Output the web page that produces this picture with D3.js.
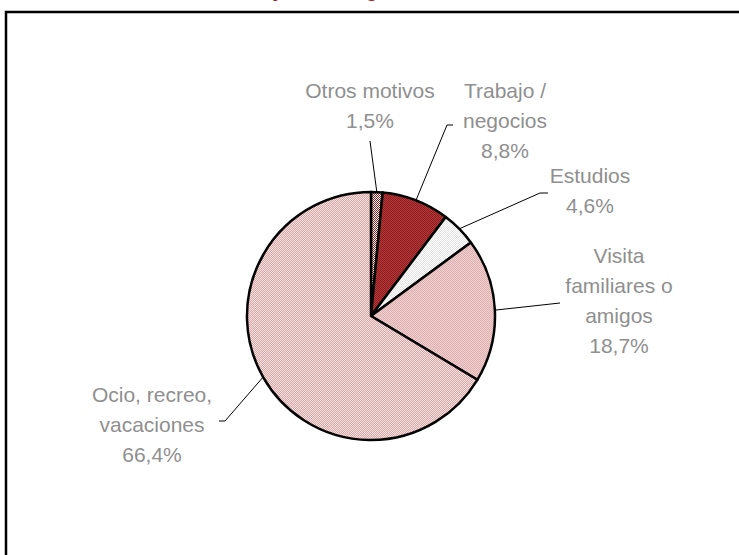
<!DOCTYPE html>
<html>
<head>
<meta charset="utf-8">
<script src="https://cdn.jsdelivr.net/npm/d3@7"></script>
<style>
  body { margin: 0; background: #fff; }
  svg { display: block; }
  .label { font-family: "Liberation Sans", Arial, sans-serif; font-size: 21px; fill: #8f8f8f; }
</style>
</head>
<body>
<svg id="chart"></svg>
<script>
const categories = ["Otros motivos", "Trabajo / negocios", "Estudios", "Visita familiares o amigos", "Ocio, recreo, vacaciones"];
const labelLines = [["Otros motivos"], ["Trabajo /", "negocios"], ["Estudios"], ["Visita", "familiares o", "amigos"], ["Ocio, recreo,", "vacaciones"]];
const values = [1.5, 8.8, 4.6, 18.7, 66.4];
const titleText = "Turistas y otros según motivo";

// fills as 2x2 pixel textures [base, dot]
const textures = [
  ["#8b1a1a", "#ffffff"],
  ["#8e1c1e", "#b33a3a"],
  ["#ffffff", "#e4e4e4"],
  ["#dfb0b0", "#efcfcf"],
  ["#f9e6e6", "#dea2a2"],
];

// label layout: centre x, first baseline, leader polyline end points
const labelLayout = [
  { x: 370, y: 98, leader: [[370, 141]] },
  { x: 505, y: 98, leader: [[447, 125], [453, 125]] },
  { x: 590, y: 183, leader: [[540, 193], [548, 193]] },
  { x: 619, y: 263, leader: [[560, 303]] },
  { x: 152, y: 402, leader: [[225, 421], [219, 421]] },
];

const width = 739;
const height = 555;
const cx = 371;
const cy = 316;
const radius = 124;
const lineHeight = 30;

const svg = d3.select("#chart").attr("width", width).attr("height", height);

const defs = svg.append("defs");
textures.forEach((t, i) => {
  const p = defs.append("pattern")
    .attr("id", `tex${i}`)
    .attr("patternUnits", "userSpaceOnUse")
    .attr("width", 2)
    .attr("height", 2);
  p.append("rect").attr("width", 2).attr("height", 2).attr("fill", t[0]);
  p.append("rect").attr("width", 1).attr("height", 1).attr("fill", t[1]);
  p.append("rect").attr("x", 1).attr("y", 1).attr("width", 1).attr("height", 1).attr("fill", t[1]);
});

// title (cut off at the top edge, only descenders show)
const title = svg.append("text")
  .attr("y", -2.8)
  .attr("font-family", "'Liberation Sans', Arial, sans-serif")
  .attr("font-weight", "bold")
  .attr("font-size", 20)
  .attr("fill", "#a01c2c")
  .text(titleText);
const yIdx = titleText.indexOf("y");
const gIdx = titleText.indexOf("g");
const node = title.node();
const yMid = node.getStartPositionOfChar(yIdx).x + node.getSubStringLength(yIdx, 1) / 2;
const gMid = node.getStartPositionOfChar(gIdx).x + node.getSubStringLength(gIdx, 1) / 2;
const fs = 20 * (94 / (gMid - yMid));
title.attr("font-size", fs).attr("x", 278 - yMid * fs / 20);

// frame
svg.append("rect")
  .attr("x", 6)
  .attr("y", 12)
  .attr("width", 760)
  .attr("height", 600)
  .attr("fill", "none")
  .attr("stroke", "#000")
  .attr("stroke-width", 2.5);

const pie = d3.pie().sort(null).value((d) => d);
const arcs = pie(values);
const arc = d3.arc().innerRadius(0).outerRadius(radius);

const g = svg.append("g").attr("transform", `translate(${cx},${cy})`);
g.selectAll("path.slice")
  .data(arcs)
  .join("path")
  .attr("class", "slice")
  .attr("d", arc)
  .attr("fill", (d, i) => `url(#tex${i})`)
  .attr("stroke", "#000")
  .attr("stroke-width", 2.5)
  .attr("stroke-linejoin", "round");

// leader lines
const line = d3.line();
svg.selectAll("path.leader")
  .data(arcs)
  .join("path")
  .attr("class", "leader")
  .attr("fill", "none")
  .attr("stroke", "#000")
  .attr("stroke-width", 1)
  .attr("d", (d, i) => {
    const a = (d.startAngle + d.endAngle) / 2;
    const start = [cx + radius * Math.sin(a), cy - radius * Math.cos(a)];
    return line([start, ...labelLayout[i].leader]);
  });

// labels
const fmt = (v) => v.toFixed(1).replace(".", ",") + "%";
const labels = svg.selectAll("text.label")
  .data(arcs)
  .join("text")
  .attr("class", "label")
  .attr("text-anchor", "middle")
  .attr("x", (d, i) => labelLayout[i].x)
  .attr("y", (d, i) => labelLayout[i].y);

labels.each(function (d, i) {
  const t = d3.select(this);
  const lines = [...labelLines[i], fmt(values[i])];
  lines.forEach((s, k) => {
    t.append("tspan")
      .attr("x", labelLayout[i].x)
      .attr("dy", k === 0 ? 0 : lineHeight)
      .text(s);
  });
});
</script>
</body>
</html>
